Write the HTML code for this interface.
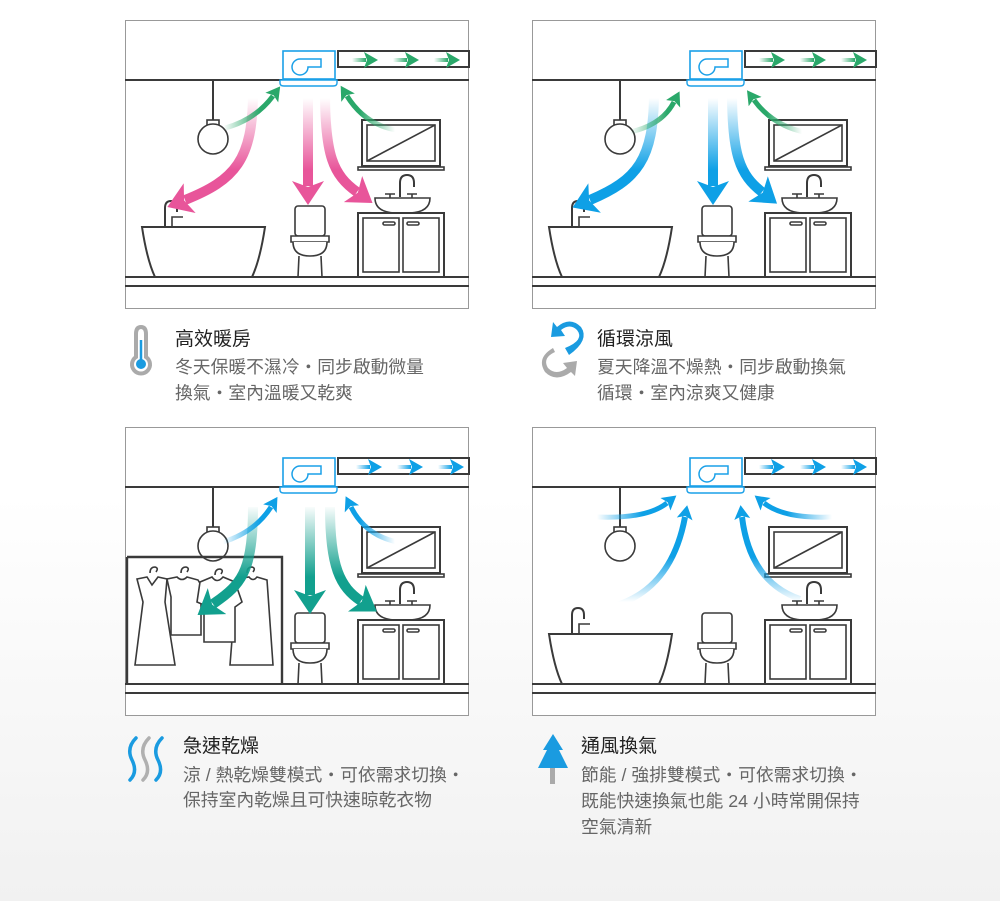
<!DOCTYPE html>
<html><head><meta charset="utf-8">
<style>
html,body{margin:0;padding:0;}
body{width:1000px;height:901px;overflow:hidden;background:linear-gradient(#ffffff 0%,#ffffff 55%,#f1f1f1 100%);}
svg{display:block}
.t{font-family:"Liberation Sans","Noto Sans CJK TC",sans-serif;font-size:19px;fill:#222;}
.b{font-family:"Liberation Sans","Noto Sans CJK TC",sans-serif;font-size:17.8px;fill:#666;}
</style></head><body>
<svg width="1000" height="901" viewBox="0 0 1000 901" xmlns="http://www.w3.org/2000/svg">
<defs>
 <linearGradient id="pk" gradientUnits="userSpaceOnUse" x1="0" y1="78" x2="0" y2="150"><stop offset="0" stop-color="#e8559a" stop-opacity="0"/><stop offset="1" stop-color="#e8559a"/></linearGradient>
 <linearGradient id="bl" gradientUnits="userSpaceOnUse" x1="0" y1="78" x2="0" y2="150"><stop offset="0" stop-color="#0ea0e6" stop-opacity="0"/><stop offset="1" stop-color="#0ea0e6"/></linearGradient>
 <linearGradient id="tl" gradientUnits="userSpaceOnUse" x1="0" y1="78" x2="0" y2="150"><stop offset="0" stop-color="#12a08e" stop-opacity="0"/><stop offset="1" stop-color="#12a08e"/></linearGradient>
 <linearGradient id="gL" gradientUnits="userSpaceOnUse" x1="98" y1="0" x2="135" y2="0"><stop offset="0" stop-color="#2aa86a" stop-opacity="0"/><stop offset="1" stop-color="#2aa86a"/></linearGradient>
 <linearGradient id="gR" gradientUnits="userSpaceOnUse" x1="270" y1="0" x2="235" y2="0"><stop offset="0" stop-color="#2aa86a" stop-opacity="0"/><stop offset="1" stop-color="#2aa86a"/></linearGradient>
 <linearGradient id="bL" gradientUnits="userSpaceOnUse" x1="98" y1="0" x2="135" y2="0"><stop offset="0" stop-color="#0ea0e6" stop-opacity="0"/><stop offset="1" stop-color="#0ea0e6"/></linearGradient>
 <linearGradient id="bR" gradientUnits="userSpaceOnUse" x1="270" y1="0" x2="235" y2="0"><stop offset="0" stop-color="#0ea0e6" stop-opacity="0"/><stop offset="1" stop-color="#0ea0e6"/></linearGradient>
 <linearGradient id="gD" gradientUnits="userSpaceOnUse" x1="0" y1="0" x2="14" y2="0"><stop offset="0" stop-color="#2aa86a" stop-opacity="0"/><stop offset="1" stop-color="#2aa86a"/></linearGradient>
 <linearGradient id="bD" gradientUnits="userSpaceOnUse" x1="0" y1="0" x2="14" y2="0"><stop offset="0" stop-color="#0ea0e6" stop-opacity="0"/><stop offset="1" stop-color="#0ea0e6"/></linearGradient>
 <linearGradient id="bU1" gradientUnits="userSpaceOnUse" x1="0" y1="175" x2="0" y2="130"><stop offset="0" stop-color="#0ea0e6" stop-opacity="0"/><stop offset="1" stop-color="#0ea0e6"/></linearGradient>
 <linearGradient id="bUL" gradientUnits="userSpaceOnUse" x1="65" y1="0" x2="110" y2="0"><stop offset="0" stop-color="#0ea0e6" stop-opacity="0"/><stop offset="1" stop-color="#0ea0e6"/></linearGradient>
 <linearGradient id="bUR" gradientUnits="userSpaceOnUse" x1="300" y1="0" x2="255" y2="0"><stop offset="0" stop-color="#0ea0e6" stop-opacity="0"/><stop offset="1" stop-color="#0ea0e6"/></linearGradient>
 <marker id="mP" markerUnits="userSpaceOnUse" markerWidth="26" markerHeight="32" refX="5" refY="16" orient="auto" viewBox="0 0 26 32"><path d="M0,0 L24,16 L0,32 L6,16 z" fill="#e8559a"/></marker>
 <marker id="mB" markerUnits="userSpaceOnUse" markerWidth="26" markerHeight="32" refX="5" refY="16" orient="auto" viewBox="0 0 26 32"><path d="M0,0 L24,16 L0,32 L6,16 z" fill="#0ea0e6"/></marker>
 <marker id="mT" markerUnits="userSpaceOnUse" markerWidth="26" markerHeight="32" refX="5" refY="16" orient="auto" viewBox="0 0 26 32"><path d="M0,0 L24,16 L0,32 L6,16 z" fill="#12a08e"/></marker>
 <marker id="mG" markerUnits="userSpaceOnUse" markerWidth="20" markerHeight="20" refX="2" refY="8" orient="auto" viewBox="0 0 20 16"><path d="M0,0 L14,8 L0,16 L3,8 z" fill="#2aa86a"/></marker>
 <marker id="mB2" markerUnits="userSpaceOnUse" markerWidth="20" markerHeight="20" refX="2" refY="8" orient="auto" viewBox="0 0 20 16"><path d="M0,0 L14,8 L0,16 L3,8 z" fill="#0ea0e6"/></marker>

 <g id="base" fill="none" stroke="#3a3a3a" stroke-width="1.6">
  <rect x="0.5" y="0.5" width="343" height="288" fill="#fff" stroke="#999" stroke-width="1"/>
  <line x1="0" y1="60" x2="344" y2="60" stroke-width="2"/>
  <line x1="0" y1="257" x2="344" y2="257" stroke-width="2"/>
  <line x1="0" y1="266" x2="344" y2="266" stroke-width="2"/>
  <rect x="213" y="31" width="131" height="16" fill="#fff" stroke-width="2"/>
  <rect x="158" y="31" width="52" height="28" fill="#fff" stroke="#1aa0e8" stroke-width="1.6"/>
  <path d="M155,60 H212 V63 Q212,66 208,66 H159 Q155,66 155,63 z" fill="#fff" stroke="#1aa0e8" stroke-width="1.4"/>
  <path d="M175,39 H196 V47 H183 A8,8 0 1 1 175,39 z" stroke="#1aa0e8" stroke-width="1.5"/>
  <line x1="88" y1="60" x2="88" y2="101" stroke-width="2"/>
  <rect x="82" y="100" width="12" height="5" fill="#fff"/>
  <circle cx="88" cy="119" r="15" fill="#fff"/>
  <rect x="237" y="100" width="78" height="46" fill="#fff" stroke-width="2"/>
  <rect x="242" y="105" width="68" height="36"/>
  <line x1="242" y1="141" x2="310" y2="105"/>
  <rect x="233" y="147" width="86" height="3" fill="#fff"/>
  <path d="M275,177 V163 Q275,155 282,155 Q289,155 289,163 V167" stroke-width="2"/>
  <path d="M260,174 H270 M265,174 V178 M282,174 H292 M287,174 V178"/>
  <path d="M250,178 H305 Q305,192 285,193 H270 Q250,192 250,178 z" fill="#fff"/>
  <rect x="233" y="193" width="86" height="64" fill="#fff" stroke-width="2"/>
  <rect x="238" y="198" width="36" height="54"/>
  <rect x="278" y="198" width="36" height="54"/>
  <rect x="258" y="202" width="12" height="3" rx="1.5"/>
  <rect x="282" y="202" width="12" height="3" rx="1.5"/>
  <rect x="170" y="186" width="30" height="30" rx="3" fill="#fff"/>
  <path d="M166,216 H204 V222 H166 z" fill="#fff"/>
  <path d="M168,222 Q168,236 185,236 Q202,236 202,222" fill="#fff"/>
  <path d="M174,236 L173,257 M196,236 L197,257"/>
 </g>
 <g id="tub" fill="none" stroke="#3a3a3a" stroke-width="1.6">
  <path d="M17,207 H140 Q135,240 127,257 H30 Q22,240 17,207 z" fill="#fff" stroke-width="2"/>
  <path d="M40,207 V188 Q40,181 46,181 Q52,181 52,188 V192" stroke-width="2"/>
  <path d="M47,207 V197 H58"/>
 </g>
</defs>

<!-- Panel TL -->
<g transform="translate(125,20)">
 <use href="#base"/><use href="#tub"/>
 <g fill="none" stroke-width="10">
  <path d="M128,72 C128,140 110,160 60,180" stroke="url(#pk)" marker-end="url(#mP)"/>
  <path d="M183,72 V166" stroke="url(#pk)" marker-end="url(#mP)"/>
  <path d="M200,72 C200,135 208,155 232,172" stroke="url(#pk)" marker-end="url(#mP)"/>
 </g>
 <g fill="none" stroke-width="5">
  <path d="M100,108 Q130,100 148,76" stroke="url(#gL)" marker-end="url(#mG)"/>
  <path d="M272,110 Q240,105 222,76" stroke="url(#gR)" marker-end="url(#mG)"/>
 </g>
 <g stroke-width="4" fill="none">
  <g transform="translate(227,0)"><path d="M0,40 H14" stroke="url(#gD)" marker-end="url(#mG)"/></g>
  <g transform="translate(268,0)"><path d="M0,40 H14" stroke="url(#gD)" marker-end="url(#mG)"/></g>
  <g transform="translate(309,0)"><path d="M0,40 H14" stroke="url(#gD)" marker-end="url(#mG)"/></g>
 </g>
</g>

<!-- Panel TR -->
<g transform="translate(532,20)">
 <use href="#base"/><use href="#tub"/>
 <g fill="none" stroke-width="10">
  <path d="M122,72 C122,140 105,160 58,180" stroke="url(#bl)" marker-end="url(#mB)"/>
  <path d="M181,72 V166" stroke="url(#bl)" marker-end="url(#mB)"/>
  <path d="M200,72 C200,135 208,155 230,172" stroke="url(#bl)" marker-end="url(#mB)"/>
 </g>
 <g fill="none" stroke-width="5">
  <path d="M98,112 Q130,105 142,82" stroke="url(#gL)" marker-end="url(#mG)"/>
  <path d="M272,112 Q240,105 222,80" stroke="url(#gR)" marker-end="url(#mG)"/>
 </g>
 <g stroke-width="4" fill="none">
  <g transform="translate(227,0)"><path d="M0,40 H14" stroke="url(#gD)" marker-end="url(#mG)"/></g>
  <g transform="translate(268,0)"><path d="M0,40 H14" stroke="url(#gD)" marker-end="url(#mG)"/></g>
  <g transform="translate(309,0)"><path d="M0,40 H14" stroke="url(#gD)" marker-end="url(#mG)"/></g>
 </g>
</g>

<!-- Panel BL -->
<g transform="translate(125,427)">
 <use href="#base"/>
 <g fill="#fff" stroke="#3a3a3a" stroke-width="1.6">
  <path d="M2,130 V258 M2,130 H157 V258" fill="none" stroke-width="2.4"/>
  <path d="M25,146 Q25,140 30,140 Q34,141 31,145 M56,146 Q56,140 61,140 Q65,141 62,145 M90,148 Q90,142 95,142 Q99,143 96,147 M122,146 Q122,140 127,140 Q131,141 128,145" fill="none"/>
  <path d="M12,152 L22,150 L27,158 L33,150 L42,152 L40,175 L50,238 H10 L18,175 Z"/>
  <path d="M42,152 L52,150 Q57,155 62,150 L73,153 L82,168 L76,172 L76,208 L46,208 L46,170 Z"/>
  <path d="M112,152 L124,150 Q128,155 132,150 L142,153 L148,238 H105 L108,200 Z"/>
  <path d="M75,155 L87,150 Q92,157 98,150 L110,155 L117,175 L110,180 L110,215 L79,215 L79,178 L72,175 Z"/>
 </g>
 <g fill="none" stroke-width="10">
  <path d="M128,80 C128,140 118,155 95,172 L88,177" stroke="url(#tl)" marker-end="url(#mT)"/>
  <path d="M185,80 V168" stroke="url(#tl)" marker-end="url(#mT)"/>
  <path d="M205,80 C205,140 215,160 236,174" stroke="url(#tl)" marker-end="url(#mT)"/>
 </g>
 <g fill="none" stroke-width="5">
  <path d="M98,115 Q130,105 146,80" stroke="url(#bL)" marker-end="url(#mB2)"/>
  <path d="M272,115 Q240,108 226,80" stroke="url(#bR)" marker-end="url(#mB2)"/>
 </g>
 <g stroke-width="4" fill="none">
  <g transform="translate(231,0)"><path d="M0,40 H14" stroke="url(#bD)" marker-end="url(#mB2)"/></g>
  <g transform="translate(272,0)"><path d="M0,40 H14" stroke="url(#bD)" marker-end="url(#mB2)"/></g>
  <g transform="translate(313,0)"><path d="M0,40 H14" stroke="url(#bD)" marker-end="url(#mB2)"/></g>
 </g>
</g>

<!-- Panel BR -->
<g transform="translate(532,427)">
 <use href="#base"/><use href="#tub"/>
 <g fill="none" stroke-width="5">
  <path d="M65,90 Q115,92 135,76" stroke="url(#bUL)" marker-end="url(#mB2)"/>
  <path d="M300,90 Q252,92 232,76" stroke="url(#bUR)" marker-end="url(#mB2)"/>
  <path d="M85,178 Q140,160 153,90" stroke="url(#bU1)" stroke-width="6" marker-end="url(#mB2)"/>
  <path d="M268,172 Q218,155 210,90" stroke="url(#bU1)" stroke-width="6" marker-end="url(#mB2)"/>
 </g>
 <g stroke-width="4" fill="none">
  <g transform="translate(227,0)"><path d="M0,40 H14" stroke="url(#bD)" marker-end="url(#mB2)"/></g>
  <g transform="translate(268,0)"><path d="M0,40 H14" stroke="url(#bD)" marker-end="url(#mB2)"/></g>
  <g transform="translate(309,0)"><path d="M0,40 H14" stroke="url(#bD)" marker-end="url(#mB2)"/></g>
 </g>
</g>

<!-- Icons -->
<g>
 <path d="M136,357 V334 Q136,327 141,327 Q146,327 146,334 V357 A9,9 0 1 1 136,357 z" fill="#fff" stroke="#aaa" stroke-width="4"/>
 <line x1="141" y1="340" x2="141" y2="360" stroke="#1a9be0" stroke-width="2.5"/>
 <circle cx="141" cy="364" r="5" fill="#1a9be0"/>
</g>
<g>
 <path d="M565,348 Q585,340 577,330 Q570,323 561,330 L565,336 L551,337 L553,322 L557,327 Q570,316 581,327 Q590,340 569,355 Z" fill="#1a9be0"/>
 <path d="M555,352 Q542,358 548,368 Q556,376 567,368 L563,363 L577,361 L575,376 L571,372 Q556,383 545,372 Q536,358 553,348 Z" fill="#aaa"/>
</g>
<g fill="none" stroke-width="3.5" stroke-linecap="round">
 <path d="M136,738 Q126,748 132,760 Q138,772 130,780" stroke="#1a9be0"/>
 <path d="M149,738 Q139,748 145,760 Q151,772 143,780" stroke="#b0b0b0"/>
 <path d="M162,738 Q152,748 158,760 Q164,772 156,780" stroke="#1a9be0"/>
</g>
<g>
 <rect x="550" y="764" width="5" height="20" fill="#aaa"/>
 <path d="M553,734 L563,750 H559 L568,768 H538 L547,750 H543 Z" fill="#1a9be0"/>
</g>

<!-- Text -->
<text class="t" x="175" y="345">高效暖房</text>
<text class="b" x="175" y="373">冬天保暖不濕冷・同步啟動微量</text>
<text class="b" x="175" y="399">換氣・室內溫暖又乾爽</text>

<text class="t" x="597" y="345">循環涼風</text>
<text class="b" x="597" y="373">夏天降溫不燥熱・同步啟動換氣</text>
<text class="b" x="597" y="399">循環・室內涼爽又健康</text>

<text class="t" x="183" y="752">急速乾燥</text>
<text class="b" x="183" y="781">涼 / 熱乾燥雙模式・可依需求切換・</text>
<text class="b" x="183" y="806">保持室內乾燥且可快速晾乾衣物</text>

<text class="t" x="581" y="752">通風換氣</text>
<text class="b" x="581" y="781">節能 / 強排雙模式・可依需求切換・</text>
<text class="b" x="581" y="807">既能快速換氣也能 24 小時常開保持</text>
<text class="b" x="581" y="833">空氣清新</text>
</svg>
</body></html>
